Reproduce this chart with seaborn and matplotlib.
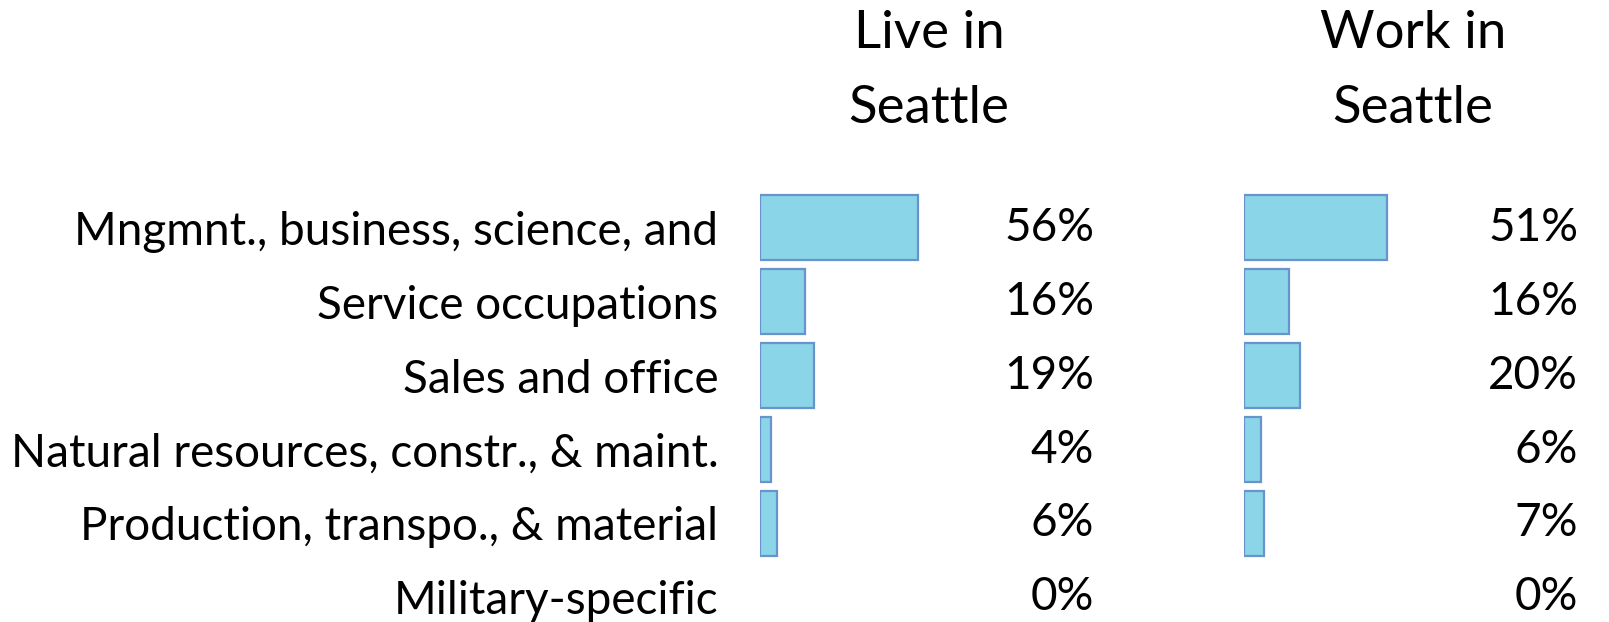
import matplotlib
matplotlib.use("Agg")
import matplotlib.pyplot as plt
import seaborn as sns
import pandas as pd

CATEGORIES = [
    "Mngmnt., business, science, and",
    "Service occupations",
    "Sales and office",
    "Natural resources, constr., & maint.",
    "Production, transpo., & material",
    "Military-specific",
]
LIVE_PCT = [56, 16, 19, 4, 6, 0]
WORK_PCT = [51, 16, 20, 6, 7, 0]
HEADERS = ["Live in\nSeattle", "Work in\nSeattle"]

FILL = "#8AD5E8"
EDGE = "#6893CC"

sns.set_theme(style="white", rc={"text.color": "black", "ytick.color": "black"})
plt.rcParams["font.family"] = ["Lato", "DejaVu Sans"]

W, H = 1609, 622
fig = plt.figure(figsize=(W / 100, H / 100), dpi=100)

# pixel layout: (left px, right px, px per percent, label x px, header center px)
panels = [
    (760, 1100, 2.82, 1094, 929),
    (1244, 1600, 2.80, 1578, 1413),
]
top_px = 190.5
row_px = 74.0
ymax = (H - (top_px + row_px / 2)) / row_px

for (l, r, ppp, lab_x, head_x), vals, head in zip(panels, [LIVE_PCT, WORK_PCT], HEADERS):
    ax = fig.add_axes([l / W, 0, (r - l) / W, (H - top_px) / H])
    df = pd.DataFrame({"cat": CATEGORIES, "pct": vals})
    sns.barplot(data=df, x="pct", y="cat", orient="h", ax=ax, color=FILL,
                edgecolor=EDGE, linewidth=1.6, width=0.88, saturation=1)
    # no visible bar for a 0% value
    for p in ax.patches:
        if p.get_width() == 0:
            p.set_visible(False)
    ax.set_xlim(0, (r - l) / ppp)
    ax.set_ylim(ymax, -0.5)
    for i, v in enumerate(vals):
        ax.text((lab_x - l) / ppp, i, f"{v}%", ha="right", va="center",
                fontsize=33, color="black")
    ax.set_xlabel("")
    ax.set_ylabel("")
    ax.set_xticks([])
    sns.despine(ax=ax, left=True, bottom=True)
    if l == 760:
        ax.tick_params(axis="y", length=0, pad=30, labelsize=33, labelcolor="black")
    else:
        ax.set_yticks([])
    fig.text(head_x / W, 1 - 71 / H, head, ha="center", va="center",
             fontsize=38, linespacing=1.72, color="black")

fig.savefig("out.png", dpi=100)
